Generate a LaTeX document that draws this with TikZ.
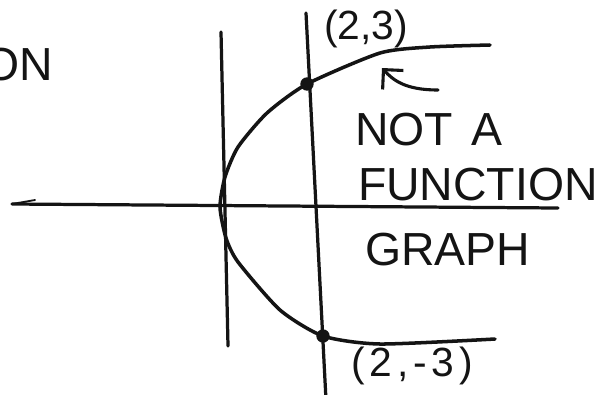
\documentclass[tikz,border=0pt]{standalone}
\usepackage{fontspec}
\setmainfont{Liberation Sans}
\usetikzlibrary{arrows.meta}
\definecolor{Ink}{HTML}{141414}
\definecolor{Paper}{HTML}{FFFFFF}

\begin{document}
\begin{tikzpicture}[
    x=0.05cm, y=-0.05cm,
    axisline/.style={draw=Ink, line width=4.6pt, line cap=round},
    curveline/.style={draw=Ink, line width=5pt, line cap=round},
    ptdot/.style={circle, fill=Ink, inner sep=0pt, minimum size=19pt},
    bigword/.style={font=\fontsize{66}{66}\selectfont, text=Ink, inner sep=0pt, anchor=base west},
    ptlabel/.style={font=\fontsize{58}{58}\selectfont, text=Ink, inner sep=0pt},
    pointer/.style={draw=Ink, line width=4.4pt, line cap=round, -{Straight Barb[length=20pt, width=40pt, line width=4.4pt]}}
]

\fill[Paper] (0,0) rectangle (611,394);
\useasboundingbox (0,0) rectangle (611,394);

\node[bigword, anchor=base east] (on) at (53,80) {ON};

\coordinate (xleft) at (12,204);
\coordinate (xright) at (558,208);
\coordinate (xbarb) at (35,200);
\coordinate (ytop) at (221,32);
\coordinate (ybot) at (228,346);
\coordinate (vtop) at (306,13);
\coordinate (vbot) at (326,400);

\draw[axisline] (xleft) -- (xright);
\draw[axisline, line width=2.6pt] (xleft) -- (xbarb);
\draw[axisline] (ytop) -- (ybot);
\draw[axisline] (vtop) -- (vbot);

\node[ptdot] (upper) at (307,84) {};
\node[ptdot] (lower) at (323,336) {};

\draw[curveline] plot[smooth, tension=0.4] coordinates {
    (490,45) (430,47) (380,53) (307,84) (267,113) (238,147) (225,177)
    (220,207) (226,238) (238,262) (280,310) (323,336) (380,344) (495,339)};

\node[ptlabel] (upperlabel) at (366,29) {(2,3)};
\node[ptlabel, font=\fontsize{58}{58}\selectfont\addfontfeature{LetterSpace=12}] (lowerlabel) at (412,366) {(2,-3)};

\coordinate (arrowtail) at (438,90);
\coordinate (arrowtip) at (382,68);
\draw[pointer] (arrowtail) .. controls (405,90) and (393,80) .. (arrowtip);

\node[bigword] (nota) at (355,145) {NOT\hspace{26pt}A};
\node[bigword] (function) at (358,200) {FUNCTION};
\node[bigword] (graph) at (365,265) {GRAPH};

\end{tikzpicture}
\end{document}
